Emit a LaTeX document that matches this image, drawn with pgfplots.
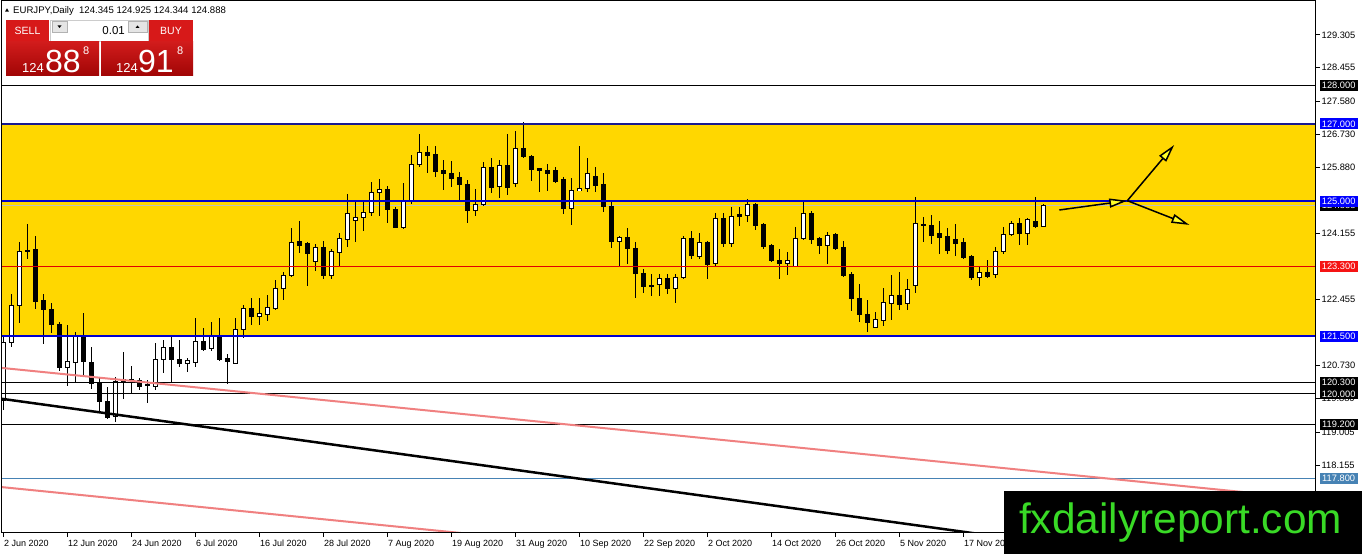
\documentclass[border=0pt]{standalone}
\usepackage{fontspec}
\setmainfont{Liberation Sans}
\usepackage{pgfplots}
\pgfplotsset{compat=1.18}
\usepackage{pgfplotstable}
\usetikzlibrary{arrows.meta}
\definecolor{zgold}{RGB}{255,215,0}
\definecolor{znavy}{RGB}{25,25,145}
\definecolor{zblue}{RGB}{0,0,205}
\definecolor{zlblue}{RGB}{0,0,255}
\definecolor{zred}{RGB}{225,0,0}
\definecolor{zlred}{RGB}{245,20,20}
\definecolor{zsalmon}{RGB}{240,128,128}
\definecolor{zsteel}{RGB}{70,130,180}
\definecolor{zbid}{RGB}{192,192,192}
\definecolor{zgreen}{RGB}{57,218,38}
\definecolor{zbtn}{RGB}{215,25,25}
\definecolor{zpanT}{RGB}{210,28,28}
\definecolor{zpanB}{RGB}{160,5,5}
\definecolor{zarrow}{RGB}{255,255,40}

\pgfplotstableread{
i o h l c
0 119.84 121.50 119.58 121.33
1 121.33 122.59 121.22 122.30
2 122.30 123.95 121.83 123.70
3 123.70 124.40 123.49 123.72
4 123.75 124.09 122.19 122.39
5 122.43 122.58 121.29 122.19
6 122.19 122.35 121.57 121.79
7 121.81 121.87 120.60 120.68
8 120.69 121.79 120.21 120.83
9 120.81 121.61 120.29 121.50
10 121.50 122.09 120.49 120.83
11 120.82 121.22 120.14 120.27
12 120.29 120.40 119.56 119.80
13 119.81 120.19 119.34 119.39
14 119.41 120.45 119.28 120.32
15 120.33 121.08 119.87 120.37
16 120.35 120.72 120.03 120.37
17 120.36 120.40 120.10 120.19
18 120.22 120.36 119.77 120.24
19 120.20 121.33 120.10 120.90
20 120.88 121.40 120.55 121.21
21 121.21 121.48 120.29 120.90
22 120.90 121.41 120.71 120.78
23 120.79 120.92 120.58 120.86
24 120.81 121.96 120.71 121.37
25 121.37 121.72 121.12 121.15
26 121.18 121.86 121.10 121.48
27 121.48 121.96 120.86 120.90
28 120.92 121.03 120.26 120.83
29 120.79 121.96 120.79 121.68
30 121.67 122.30 121.44 122.22
31 122.22 122.48 121.80 122.00
32 122.00 122.48 121.79 122.09
33 122.06 122.56 121.90 122.24
34 122.22 122.95 122.17 122.74
35 122.74 123.17 122.43 123.08
36 123.07 124.29 123.02 123.93
37 123.96 124.47 123.66 123.86
38 123.90 123.95 122.81 123.63
39 123.43 123.89 123.20 123.79
40 123.79 123.96 122.98 123.07
41 123.07 123.75 122.98 123.68
42 123.67 124.16 123.32 124.02
43 124.01 125.18 123.80 124.68
44 124.49 124.98 123.95 124.58
45 124.57 124.98 124.23 124.71
46 124.70 125.50 124.61 125.23
47 125.23 125.56 124.61 125.30
48 125.30 125.39 124.42 124.78
49 124.77 124.84 124.29 124.32
50 124.32 125.48 124.28 124.98
51 124.98 126.19 124.92 125.94
52 125.94 126.74 125.87 126.26
53 126.26 126.43 125.72 126.18
54 126.22 126.43 125.63 125.76
55 125.78 126.06 125.30 125.72
56 125.72 126.04 125.37 125.59
57 125.61 125.74 125.03 125.43
58 125.43 125.55 124.42 124.75
59 124.75 125.31 124.62 124.90
60 124.90 126.02 124.88 125.87
61 125.87 126.12 125.20 125.35
62 125.39 126.06 125.09 125.93
63 125.93 126.74 125.16 125.35
64 125.46 126.82 125.37 126.37
65 126.37 127.06 126.11 126.15
66 126.15 126.19 125.52 125.82
67 125.85 125.86 125.24 125.80
68 125.80 125.95 125.27 125.72
69 125.80 125.89 125.46 125.52
70 125.55 125.63 124.66 124.81
71 124.81 125.61 124.38 125.27
72 125.27 126.44 125.25 125.33
73 125.33 126.11 125.24 125.72
74 125.63 125.89 125.24 125.40
75 125.42 125.74 124.72 124.85
76 124.87 124.97 123.79 123.95
77 123.96 124.10 123.30 124.06
78 124.06 124.29 123.38 123.77
79 123.77 123.95 122.50 123.11
80 123.12 123.25 122.61 122.78
81 122.82 123.12 122.54 122.78
82 122.84 123.12 122.54 122.99
83 122.99 123.12 122.58 122.72
84 122.74 123.12 122.35 123.02
85 123.01 124.09 122.99 124.03
86 124.03 124.22 123.51 123.58
87 123.57 124.18 123.51 123.93
88 123.93 123.97 122.99 123.36
89 123.38 124.68 123.28 124.55
90 124.55 124.70 123.82 123.89
91 123.90 124.84 123.82 124.60
92 124.64 124.84 124.34 124.59
93 124.62 125.04 124.46 124.91
94 124.91 124.96 124.25 124.36
95 124.40 124.44 123.75 123.83
96 123.86 123.90 123.41 123.45
97 123.47 123.75 122.99 123.38
98 123.38 123.67 123.08 123.46
99 123.30 124.32 123.28 124.03
100 124.03 125.00 123.99 124.68
101 124.68 124.75 123.90 124.01
102 124.02 124.08 123.62 123.84
103 123.84 124.21 123.38 124.12
104 124.12 124.18 123.73 123.76
105 123.79 123.96 123.04 123.08
106 123.10 123.15 122.15 122.48
107 122.48 122.84 121.87 122.06
108 122.07 122.43 121.61 121.86
109 121.73 122.13 121.70 121.92
110 121.90 122.74 121.77 122.37
111 122.35 123.07 121.92 122.54
112 122.54 123.15 122.17 122.33
113 122.35 122.98 122.17 122.71
114 122.82 125.10 122.62 124.42
115 124.40 124.58 123.95 124.36
116 124.36 124.64 123.89 124.10
117 124.15 124.48 123.64 124.05
118 124.08 124.29 123.63 123.73
119 123.99 124.40 123.58 123.89
120 123.92 124.03 123.51 123.53
121 123.56 123.60 122.95 123.01
122 123.02 123.30 122.81 123.15
123 123.15 123.47 123.01 123.04
124 123.10 123.82 123.01 123.70
125 123.70 124.34 123.62 124.14
126 124.14 124.48 124.10 124.42
127 124.42 124.55 123.86 124.16
128 124.16 124.55 123.86 124.53
129 124.48 125.10 124.31 124.34
130 124.345 124.925 124.344 124.888
}\ohlc

\tikzset{lbl/.style={anchor=west, xshift=4bp, inner sep=0pt, minimum height=11bp, minimum width=38bp, text=white, font=\fontsize{9.3bp}{11bp}\selectfont}}

\begin{document}
\begin{tikzpicture}
\useasboundingbox (0,0) rectangle (1362bp,554bp);
\fill[white] (0,0) rectangle (1362bp,554bp);
\begin{axis}[
  at={(1.5bp,21bp)}, anchor=south west,
  scale only axis, width=1314bp, height=532bp,
  xmin=-0.1875, xmax=164.0625, ymin=116.3934, ymax=130.1865,
  axis on top,
  clip mode=individual,
  axis line style={line width=1bp, black},
  tick align=outside, major tick length=4bp,
  tick style={black, line width=1bp},
  xtick pos=left, ytick pos=right, yticklabel pos=right,
  xtick={0,8,...,120},
  xticklabels={2 Jun 2020,12 Jun 2020,24 Jun 2020,6 Jul 2020,16 Jul 2020,28 Jul 2020,7 Aug 2020,19 Aug 2020,31 Aug 2020,10 Sep 2020,22 Sep 2020,2 Oct 2020,14 Oct 2020,26 Oct 2020,5 Nov 2020,17 Nov 2020},
  xticklabel style={anchor=north west, inner sep=0pt, font=\fontsize{9bp}{10bp}\selectfont, xshift=1bp, yshift=-3bp},
  ytick={129.305,128.455,127.580,126.730,125.880,124.155,122.455,120.730,119.880,119.005,118.155},
  yticklabels={129.305,128.455,127.580,126.730,125.880,124.155,122.455,120.730,119.880,119.005,118.155},
  yticklabel style={anchor=west, inner sep=0pt, font=\fontsize{9.3bp}{10bp}\selectfont, xshift=2bp},
]
% support zone
\addplot[fill=zgold, draw=none] coordinates {(-1,121.5) (170,121.5) (170,127) (-1,127)} -- cycle;
% bid line
\addplot[zbid, line width=1bp] coordinates {(-1,124.888) (170,124.888)};
% wicks
\addplot[draw=none, mark=none, error bars/.cd, y dir=both, y explicit, error mark=none,
  error bar style={draw=black, line width=1bp}]
  table[x=i, y expr={(\thisrow{h}+\thisrow{l})/2}, y error expr={(\thisrow{h}-\thisrow{l})/2}] {\ohlc};
% bodies
\addplot[draw=none, mark=none, error bars/.cd, y dir=both, y explicit, error mark=none,
  error bar style={draw=black, line width=5bp}]
  table[x=i, y expr={(\thisrow{o}+\thisrow{c})/2}, y error expr={abs(\thisrow{c}-\thisrow{o})/2+0.013}] {\ohlc};
\addplot[draw=none, mark=none, error bars/.cd, y dir=both, y explicit, error mark=none,
  error bar style={draw=white, line width=3bp}]
  table[x=i, y expr={(\thisrow{o}+\thisrow{c})/2}, y error expr={max((\thisrow{c}-\thisrow{o})/2-0.013,0)}] {\ohlc};
% horizontal levels
\addplot[black, line width=1bp] coordinates {(-1,128) (170,128)};
\addplot[znavy, line width=2bp] coordinates {(-1,127) (170,127)};
\addplot[zblue, line width=2bp] coordinates {(-1,125) (170,125)};
\addplot[zred, line width=1bp] coordinates {(-1,123.3) (170,123.3)};
\addplot[zblue, line width=2bp] coordinates {(-1,121.5) (170,121.5)};
\addplot[black, line width=1bp] coordinates {(-1,120.3) (170,120.3)};
\addplot[black, line width=1bp] coordinates {(-1,120) (170,120)};
\addplot[black, line width=1bp] coordinates {(-1,119.2) (170,119.2)};
\addplot[zsteel, line width=1bp] coordinates {(-1,117.8) (170,117.8)};
% trend lines
\addplot[zsalmon, line width=2bp] coordinates {(-1,120.691) (170,117.144)};
\addplot[zsalmon, line width=2bp] coordinates {(-1,117.601) (170,114.054)};
\addplot[black, line width=2.5bp] coordinates {(-1,119.897) (170,114.992)};
% arrows
\addplot[black, line width=1.5bp, -{Triangle[length=18bp,width=9bp,fill=zarrow]}] coordinates {(132.04,124.768) (140.54,125.009)};
\addplot[black, line width=1.5bp, -{Triangle[length=18bp,width=9bp,fill=zarrow]}] coordinates {(140.54,125.009) (146.4,126.453)};
\addplot[black, line width=1.5bp, -{Triangle[length=18bp,width=9bp,fill=zarrow]}] coordinates {(140.54,125.009) (148.3,124.38)};
% label anchors
\coordinate (R128) at (axis cs:164.0625,128);
\coordinate (R127) at (axis cs:164.0625,127);
\coordinate (R125) at (axis cs:164.0625,125);
\coordinate (Rbid) at (axis cs:164.0625,124.888);
\coordinate (R1233) at (axis cs:164.0625,123.3);
\coordinate (R1215) at (axis cs:164.0625,121.5);
\coordinate (R1203) at (axis cs:164.0625,120.3);
\coordinate (R120) at (axis cs:164.0625,120);
\coordinate (R1192) at (axis cs:164.0625,119.2);
\coordinate (R1178) at (axis cs:164.0625,117.8);
\end{axis}
% price labels on the right scale
\node[lbl, fill=black] at (R128) {128.000};
\node[lbl, fill=zlblue] at (R127) {127.000};
\node[lbl, fill=black] at (Rbid) {124.888};
\node[lbl, fill=zlblue] at (R125) {125.000};
\node[lbl, fill=zlred] at (R1233) {123.300};
\node[lbl, fill=zlblue] at (R1215) {121.500};
\node[lbl, fill=black] at (R1203) {120.300};
\node[lbl, fill=black] at (R120) {120.000};
\node[lbl, fill=black] at (R1192) {119.200};
\node[lbl, fill=zsteel] at (R1178) {117.800};
% watermark
\fill[black] (1004bp,0) rectangle (1362bp,63bp);
\node[anchor=base west, inner sep=0pt, text=zgreen, font=\fontsize{42.4bp}{44bp}\selectfont] at (1019bp,21bp) {fxdailyreport.com};
% header and trading panel (pixel coordinates, y downward)
\begin{scope}[x=1bp, y=-1bp, shift={(0,554bp)}]
\fill[black] (5,11.7) -- (9,11.7) -- (7,8.3) -- cycle;
\node[anchor=base west, inner sep=0pt, font=\fontsize{9.6bp}{10bp}\selectfont] at (13,13.5) {EURJPY,Daily\ \ 124.345 124.925 124.344 124.888};
% SELL / BUY buttons
\fill[zbtn] (6,20) rectangle (49,41.5);
\fill[zbtn] (149,20) rectangle (193,41.5);
\draw[white!70!red, line width=0.8bp] (10,41.2) -- (45,41.2);
\draw[white!70!red, line width=0.8bp] (153,41.2) -- (189,41.2);
\node[text=white, inner sep=0pt, font=\fontsize{10.5bp}{11bp}\selectfont] at (27.5,31) {SELL};
\node[text=white, inner sep=0pt, font=\fontsize{10.5bp}{11bp}\selectfont] at (171,31) {BUY};
% volume spinner
\fill[white] (50,20) rectangle (148,41);
\draw[gray!40, line width=0.8bp] (50,20) rectangle (148,41);
\fill[gray!20] (52,21) rectangle (67,32);
\draw[gray!60, line width=0.6bp] (52,21) rectangle (67,32);
\fill[black] (57.5,25.5) -- (61.5,25.5) -- (59.5,28) -- cycle;
\fill[gray!20] (128,21) rectangle (147,32);
\draw[gray!60, line width=0.6bp] (128,21) rectangle (147,32);
\fill[black] (135.5,28) -- (139.5,28) -- (137.5,25.5) -- cycle;
\node[anchor=base east, inner sep=0pt, font=\fontsize{11.5bp}{12bp}\selectfont] at (125,34.5) {0.01};
% price panels
\shade[top color=zpanT, bottom color=zpanB] (6,41.5) rectangle (99,76);
\shade[top color=zpanT, bottom color=zpanB] (101,41.5) rectangle (193,76);
\node[anchor=base west, inner sep=0pt, text=white, font=\fontsize{13bp}{14bp}\selectfont] at (22,73) {124};
\node[anchor=base west, inner sep=0pt, text=white, font=\fontsize{32bp}{34bp}\selectfont] at (45,73) {88};
\node[anchor=base west, inner sep=0pt, text=white, font=\fontsize{11bp}{12bp}\selectfont] at (83,55) {8};
\node[anchor=base west, inner sep=0pt, text=white, font=\fontsize{13bp}{14bp}\selectfont] at (116,73) {124};
\node[anchor=base west, inner sep=0pt, text=white, font=\fontsize{32bp}{34bp}\selectfont] at (138,73) {91};
\node[anchor=base west, inner sep=0pt, text=white, font=\fontsize{11bp}{12bp}\selectfont] at (177,55) {8};
\end{scope}
\end{tikzpicture}
\end{document}
